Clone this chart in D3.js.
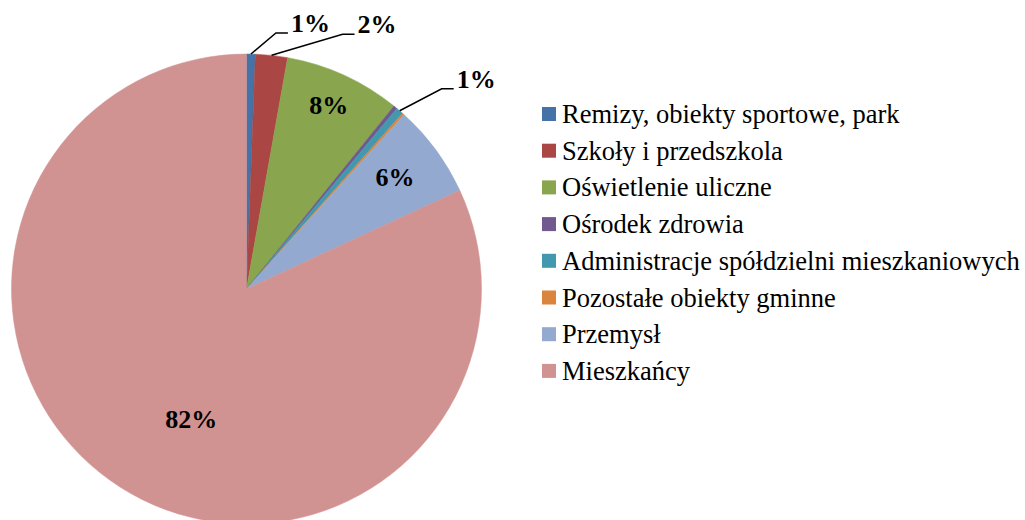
<!DOCTYPE html>
<html>
<head>
<meta charset="utf-8">
<script src="https://cdn.jsdelivr.net/npm/d3@7"></script>
</head>
<body style="margin:0; background:#fff">
<svg width="1025" height="520"></svg>
<script>
// dane wykresu (udziały w %)
const categories = [
  "Remizy, obiekty sportowe, park",
  "Szkoły i przedszkola",
  "Oświetlenie uliczne",
  "Ośrodek zdrowia",
  "Administracje spółdzielni mieszkaniowych",
  "Pozostałe obiekty gminne",
  "Przemysł",
  "Mieszkańcy"
];
const values = [0.6, 2.2, 8.0, 0.25, 0.5, 0.15, 6.4, 81.9];
const colors = ["#4572A7", "#AA4643", "#89A54E", "#71588F", "#4198AF", "#DB843D", "#93A9CF", "#D19392"];

// ułożenie etykiet: wewnątrz (promień, przesunięcie kąta) albo na zewnątrz z linią
const labelLayout = {
  "Remizy, obiekty sportowe, park": { outside: true, dx: 25, dy: -21 },
  "Szkoły i przedszkola": { outside: true, dx: 71, dy: -21 },
  "Administracje spółdzielni mieszkaniowych": { outside: true, dx: 42, dy: -22 },
  "Oświetlenie uliczne": { r: 0.845, da: 0 },
  "Przemysł": { r: 0.785, da: 0 },
  "Mieszkańcy": { r: 0.613, da: -10 }
};

const FONT = "Liberation Serif";
const svg = d3.select("svg");
const cx = 246.5, cy = 289, radius = 235;

const data = categories.map((c, i) => ({ name: c, value: values[i], color: colors[i] }));

const pie = d3.pie().value(d => d.value).sort(null);
const arcs = pie(data);
const arc = d3.arc().innerRadius(0).outerRadius(radius);

const g = svg.append("g").attr("transform", `translate(${cx},${cy})`);

g.selectAll("path.slice")
  .data(arcs)
  .enter().append("path")
  .attr("class", "slice")
  .attr("d", arc)
  .attr("fill", d => d.data.color)
  .attr("stroke", d => d.data.color)
  .attr("stroke-width", 0.5);

// etykiety procentowe
const pct = v => Math.round(v) + "%";
const polar = (a, r) => [Math.sin(a) * r, -Math.cos(a) * r];

arcs.forEach(d => {
  const lay = labelLayout[d.data.name];
  if (!lay) return;
  const mid = (d.startAngle + d.endAngle) / 2;
  if (lay.outside) {
    const p0 = polar(mid, radius);
    const p1 = [p0[0] + lay.dx, p0[1] + lay.dy];
    const p2 = [p1[0] + 12, p1[1]];
    g.append("polyline")
      .attr("points", [p0, p1, p2].map(p => p.join(",")).join(" "))
      .attr("fill", "none")
      .attr("stroke", "#000")
      .attr("stroke-width", 1.5);
    g.append("text")
      .attr("x", p2[0] + 3)
      .attr("y", p2[1] - 7)
      .attr("dominant-baseline", "middle")
      .attr("font-family", FONT)
      .attr("font-size", 26)
      .attr("font-weight", "bold")
      .text(pct(d.data.value));
  } else {
    const p = polar(mid + lay.da * Math.PI / 180, radius * lay.r);
    g.append("text")
      .attr("x", p[0])
      .attr("y", p[1])
      .attr("text-anchor", "middle")
      .attr("dominant-baseline", "middle")
      .attr("font-family", FONT)
      .attr("font-size", 26)
      .attr("font-weight", "bold")
      .text(pct(d.data.value));
  }
});

// legenda
const legend = svg.append("g").attr("transform", "translate(542,114)");
const rowH = 36.7;
const item = legend.selectAll("g.item")
  .data(data)
  .enter().append("g")
  .attr("class", "item")
  .attr("transform", (d, i) => `translate(0,${i * rowH})`);

item.append("rect")
  .attr("x", 0).attr("y", -7)
  .attr("width", 14).attr("height", 14)
  .attr("fill", d => d.color);

item.append("text")
  .attr("x", 20)
  .attr("y", 0)
  .attr("dominant-baseline", "central")
  .attr("font-family", FONT)
  .attr("font-size", 26.5)
  .attr("fill", "#000")
  .text(d => d.name);
</script>
</body>
</html>
